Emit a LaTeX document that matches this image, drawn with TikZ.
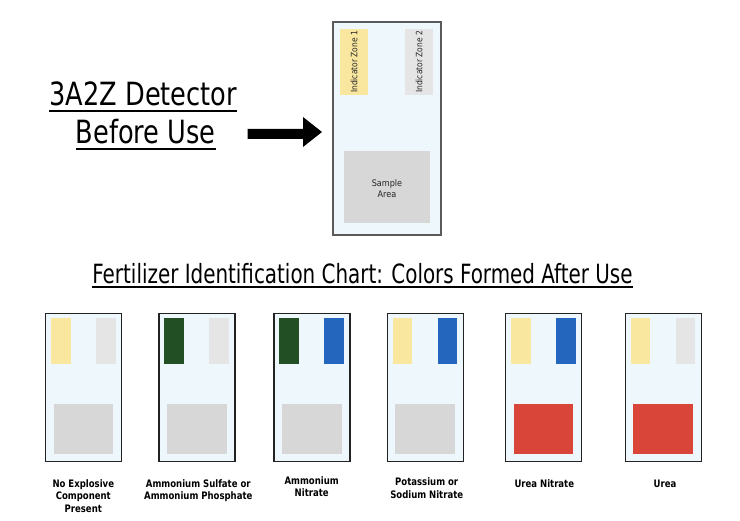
\documentclass[tikz,border=0pt]{standalone}
\usepackage{fontspec}
\setmainfont{DejaVu Sans Condensed}
\definecolor{detbg}{HTML}{EEF7FC}
\definecolor{zyellow}{HTML}{F9E79F}
\definecolor{zgray}{HTML}{E5E5E5}
\definecolor{zgreen}{HTML}{224F24}
\definecolor{zblue}{HTML}{2465BE}
\definecolor{zred}{HTML}{D94539}
\definecolor{sgray}{HTML}{D7D7D7}
\definecolor{topborder}{HTML}{5A5A5A}
\definecolor{botborder}{HTML}{222222}
\newcommand\chartdet[5]{%
  \node[detbox, minimum width=76pt, minimum height=148.4pt] (#1) at (#2,313.3) {};
  \node[zonebox, fill=#3, minimum width=19.7pt, minimum height=46.3pt] (#1za) at (#2+5.3,317.7) {};
  \node[zonebox, fill=#4, minimum width=19.7pt, minimum height=46.3pt] (#1zb) at (#2+50.3,317.7) {};
  \node[zonebox, fill=#5, minimum width=59.6pt, minimum height=50.3pt] (#1s) at (#2+8,404) {};
}
\newcommand\lbltext[1]{\scalebox{0.92}[1]{\begin{tabular}{@{}c@{}}#1\end{tabular}}}
\begin{document}
\begin{tikzpicture}[x=1pt,y=-1pt,
  detbox/.style={rectangle, inner sep=0pt, outer sep=0pt, anchor=north west, fill=detbg, draw=botborder, line width=1.4pt},
  zonebox/.style={rectangle, inner sep=0pt, outer sep=0pt, anchor=north west},
  lbl/.style={font=\bfseries\fontsize{10.3}{12.7}\selectfont, inner sep=0pt, anchor=north},
  bigtitle/.style={font=\fontsize{32}{36}\selectfont, inner sep=0pt, anchor=base},
  ulinestyle/.style={line width=2pt}
]
\useasboundingbox (0,0) rectangle (740,521);
\fill[white] (0,0) rectangle (740,521);

% title
\node[bigtitle] (t1) at (143.3,106) {\scalebox{0.89}[1]{3A2Z Detector}};
\node[bigtitle] (t2) at (145.8,144) {\scalebox{0.89}[1]{Before Use}};
\draw[ulinestyle] ([yshift=-4.7pt]t1.base west) -- ([yshift=-4.7pt]t1.base east);
\draw[ulinestyle] ([yshift=-4.7pt]t2.base west) -- ([yshift=-4.7pt]t2.base east);

% arrow
\fill[black] (247.7,129) -- (303,129) -- (303,117) -- (322,132) -- (303,147) -- (303,139) -- (247.7,139) -- cycle;

% top detector
\node[detbox, draw=topborder, line width=1.2pt, minimum width=108pt, minimum height=213pt] (top) at (333,22) {};
\node[zonebox, fill=zyellow, minimum width=28pt, minimum height=66pt] (topza) at (340,29) {};
\node[zonebox, fill=zgray, minimum width=28pt, minimum height=66pt] (topzb) at (405,29) {};
\node[zonebox, fill=sgray, minimum width=86pt, minimum height=72pt] (tops) at (344,151) {};
\node[rotate=90, font=\fontsize{8.8}{10}\selectfont, text=black!85, inner sep=0pt] (topzat) at (topza.center) {\scalebox{0.95}[1]{Indicator Zone 1}};
\node[rotate=90, font=\fontsize{8.8}{10}\selectfont, text=black!85, inner sep=0pt] (topzbt) at (topzb.center) {\scalebox{0.95}[1]{Indicator Zone 2}};
\node[align=center, font=\fontsize{9}{11}\selectfont, text=black!85, inner sep=0pt] (topst) at ([yshift=-1.5pt]tops.center) {Sample\\Area};

% chart title
\node[font=\fontsize{26.5}{30}\selectfont, inner sep=0pt, anchor=base] (ct) at (362.5,283.3) {\scalebox{0.835}[1]{Fertilizer Identification Chart: Colors Formed After Use}};
\draw[line width=1.8pt] ([yshift=-4pt]ct.base west) -- ([yshift=-4pt]ct.base east);

% chart detectors
\chartdet{d1}{45.7}{zyellow}{zgray}{sgray}
\chartdet{d2}{159}{zgreen}{zgray}{sgray}
\chartdet{d3}{274}{zgreen}{zblue}{sgray}
\chartdet{d4}{387.3}{zyellow}{zblue}{sgray}
\chartdet{d5}{505.7}{zyellow}{zblue}{zred}
\chartdet{d6}{625.3}{zyellow}{zgray}{zred}

% labels
\node[lbl] (l1) at (83.3,478) {\lbltext{No Explosive\\Component\\Present}};
\node[lbl] (l2) at (198.3,478) {\lbltext{Ammonium Sulfate or\\Ammonium Phosphate}};
\node[lbl] (l3) at (311.7,475) {\lbltext{Ammonium\\Nitrate}};
\node[lbl] (l4) at (426.7,476.8) {\lbltext{Potassium or\\Sodium Nitrate}};
\node[lbl] (l5) at (544.3,478) {\lbltext{Urea Nitrate}};
\node[lbl] (l6) at (665,478) {\lbltext{Urea}};
\end{tikzpicture}
\end{document}
